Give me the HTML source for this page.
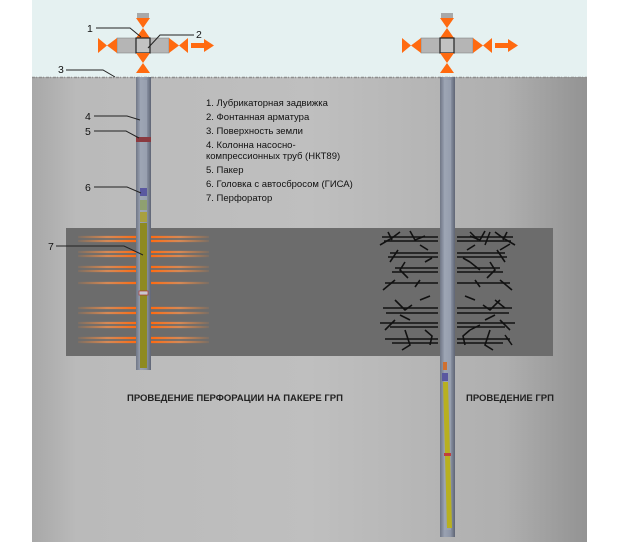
<!DOCTYPE html>
<html><head><meta charset="utf-8"><style>
body{margin:0;width:623px;height:542px;background:#fff;overflow:hidden;font-family:"Liberation Sans",sans-serif}
</style></head><body>
<svg width="623" height="542" viewBox="0 0 623 542" xmlns="http://www.w3.org/2000/svg" style="position:absolute;left:0;top:0">
<defs>
<linearGradient id="gr" x1="0" x2="1" y1="0" y2="0">
<stop offset="0" stop-color="#a8a8a8"/><stop offset="0.08" stop-color="#bababa"/><stop offset="0.5" stop-color="#bfbfbf"/><stop offset="0.85" stop-color="#afafaf"/><stop offset="1" stop-color="#939393"/></linearGradient>
<linearGradient id="pipe" x1="0" x2="1"><stop offset="0" stop-color="#6f7685"/><stop offset="0.3" stop-color="#9aa2b2"/><stop offset="0.7" stop-color="#8d95a6"/><stop offset="1" stop-color="#5f6574"/></linearGradient>
<linearGradient id="og" gradientUnits="userSpaceOnUse" x1="78" x2="136" y1="0" y2="0"><stop offset="0" stop-color="#ff8a30" stop-opacity="0.1"/><stop offset="0.5" stop-color="#f09050" stop-opacity="0.8"/><stop offset="1" stop-color="#ff6a10"/></linearGradient>
<g id="wh">
<rect x="-6" y="13" width="12" height="5" fill="#a8a8a8"/>
<polygon points="-7,18 7,18 0,28 -7,38 7,38 0,28" fill="#ff6a10"/>
<rect x="-26" y="38" width="52" height="15" fill="#b5b5b5" stroke="#777" stroke-width="0.5"/>
<rect x="-7" y="38" width="14" height="15" fill="#c2c2c2" stroke="#222" stroke-width="1.2"/>
<polygon points="-26,38 -26,53 -36,45.5 -45,38 -45,53 -36,45.5" fill="#ff6a10"/>
<polygon points="26,38 26,53 36,45.5 45,38 45,53 36,45.5" fill="#ff6a10"/>
<polygon points="-7,53 7,53 0,63 -7,73 7,73 0,63" fill="#ff6a10"/>
<rect x="48" y="43" width="13" height="5" fill="#ff6a10"/><polygon points="61,39 71,45.5 61,52" fill="#ff6a10"/>
</g>
<g id="str" stroke="url(#og)" stroke-width="2.2">
<line x1="78" x2="136" y1="237" y2="237"/><line x1="78" x2="136" y1="241" y2="241"/>
<line x1="78" x2="136" y1="252" y2="252"/><line x1="78" x2="136" y1="256" y2="256"/>
<line x1="78" x2="136" y1="267" y2="267"/><line x1="78" x2="136" y1="271" y2="271"/>
<line x1="78" x2="136" y1="283" y2="283"/>
<line x1="78" x2="136" y1="308" y2="308"/><line x1="78" x2="136" y1="313" y2="313"/>
<line x1="78" x2="136" y1="323" y2="323"/><line x1="78" x2="136" y1="327" y2="327"/>
<line x1="78" x2="136" y1="338" y2="338"/><line x1="78" x2="136" y1="342" y2="342"/>
</g>
<g id="fr" stroke="#111" stroke-width="1.6" fill="none">
<path d="M382 237H438M384 241H438M390 253H438M388 257H438M395 268H438M392 272H438M385 283H438M383 308H438M386 313H438M380 323H438M390 327H438M385 339H438M392 343H438"/>
<path d="M380 245L392 238L400 232M388 232L392 240M410 231L415 240L425 236M420 245L428 250M398 250L390 262M405 262L400 270L408 278M395 280L383 290M415 287L420 280M425 262L432 258M395 300L405 310L412 305M420 300L430 296M385 330L395 320M405 330L410 345L402 350M425 330L432 336L430 345M400 315L410 320"/>
</g>
</defs>
<rect x="32" y="0" width="555" height="78" fill="#e5f1f1"/>
<rect x="32" y="77" width="555" height="465" fill="url(#gr)"/>
<line x1="32" y1="77.5" x2="587" y2="77.5" stroke="#8f8f8f" stroke-width="1.5" stroke-dasharray="3 1 1 2"/>
<rect x="66" y="228" width="487" height="128" fill="#6c6c6c"/>
<use href="#str"/>
<g transform="translate(287,0) scale(-1,1)"><use href="#str"/></g>
<use href="#fr"/>
<g transform="translate(895,0) scale(-1,1)"><use href="#fr"/></g>
<path d="M470 232L478 240M490 232L485 245M500 250L510 244M470 262L480 270M495 300L505 308M470 330L480 325M505 335L512 345" stroke="#111" stroke-width="1.5" fill="none"/>
<!-- left well -->
<rect x="136" y="77" width="15" height="293" fill="url(#pipe)"/>
<rect x="140" y="80" width="7" height="140" fill="#a0a8b6" opacity="0.6"/>
<rect x="136" y="137" width="15" height="5" fill="#8a3a40"/>
<rect x="140" y="188" width="7" height="8" fill="#5a58a0"/>
<rect x="140" y="200" width="7" height="10" fill="#8fa070"/>
<rect x="140" y="212" width="7" height="10" fill="#a8a040"/>
<rect x="140" y="223" width="7" height="145" fill="#8e8a22"/>
<rect x="139" y="291" width="9" height="4" fill="#c8c8d0" stroke="#a33" stroke-width="0.7"/>
<use href="#wh" x="143" y="0"/>
<!-- right well -->
<rect x="440" y="77" width="15" height="460" fill="url(#pipe)"/>
<rect x="444" y="80" width="7" height="450" fill="#a0a8b6" opacity="0.5"/>
<rect x="443" y="362" width="4" height="8" fill="#d07030"/>
<rect x="442" y="373" width="6" height="8" fill="#5a58a0"/>
<polygon points="443,382 448,382 452,528 447,528" fill="#b8b020"/>
<rect x="444" y="453" width="7" height="3" fill="#c04040"/>
<use href="#wh" x="447" y="0"/>
<g stroke="#222" stroke-width="1" fill="none">
<path d="M96 28H130L141 37"/><path d="M194 35H160L148 48"/><path d="M66 70H103L115 77"/>
<path d="M94 116H127L140 120"/><path d="M94 131H126L139 138"/><path d="M94 187H127L141 193"/><path d="M56 246H124L143 255"/>
</g>
<g font-size="10.5" fill="#111">
<text x="87" y="32">1</text><text x="196" y="38">2</text><text x="58" y="73">3</text>
<text x="85" y="120">4</text><text x="85" y="135">5</text><text x="85" y="191">6</text><text x="48" y="250">7</text>
</g>
<g font-size="9.5" fill="#111">
<text x="206" y="106">1. Лубрикаторная задвижка</text>
<text x="206" y="120">2. Фонтанная арматура</text>
<text x="206" y="134">3. Поверхность земли</text>
<text x="206" y="148">4. Колонна насосно-</text>
<text x="206" y="159">компрессионных труб (НКТ89)</text>
<text x="206" y="173">5. Пакер</text>
<text x="206" y="187">6. Головка с автосбросом (ГИСА)</text>
<text x="206" y="201">7. Перфоратор</text>
</g>
<g font-size="9.5" font-weight="bold" fill="#222">
<text x="127" y="401">ПРОВЕДЕНИЕ ПЕРФОРАЦИИ НА ПАКЕРЕ ГРП</text>
<text x="466" y="401">ПРОВЕДЕНИЕ ГРП</text>
</g>
</svg>
</body></html>
